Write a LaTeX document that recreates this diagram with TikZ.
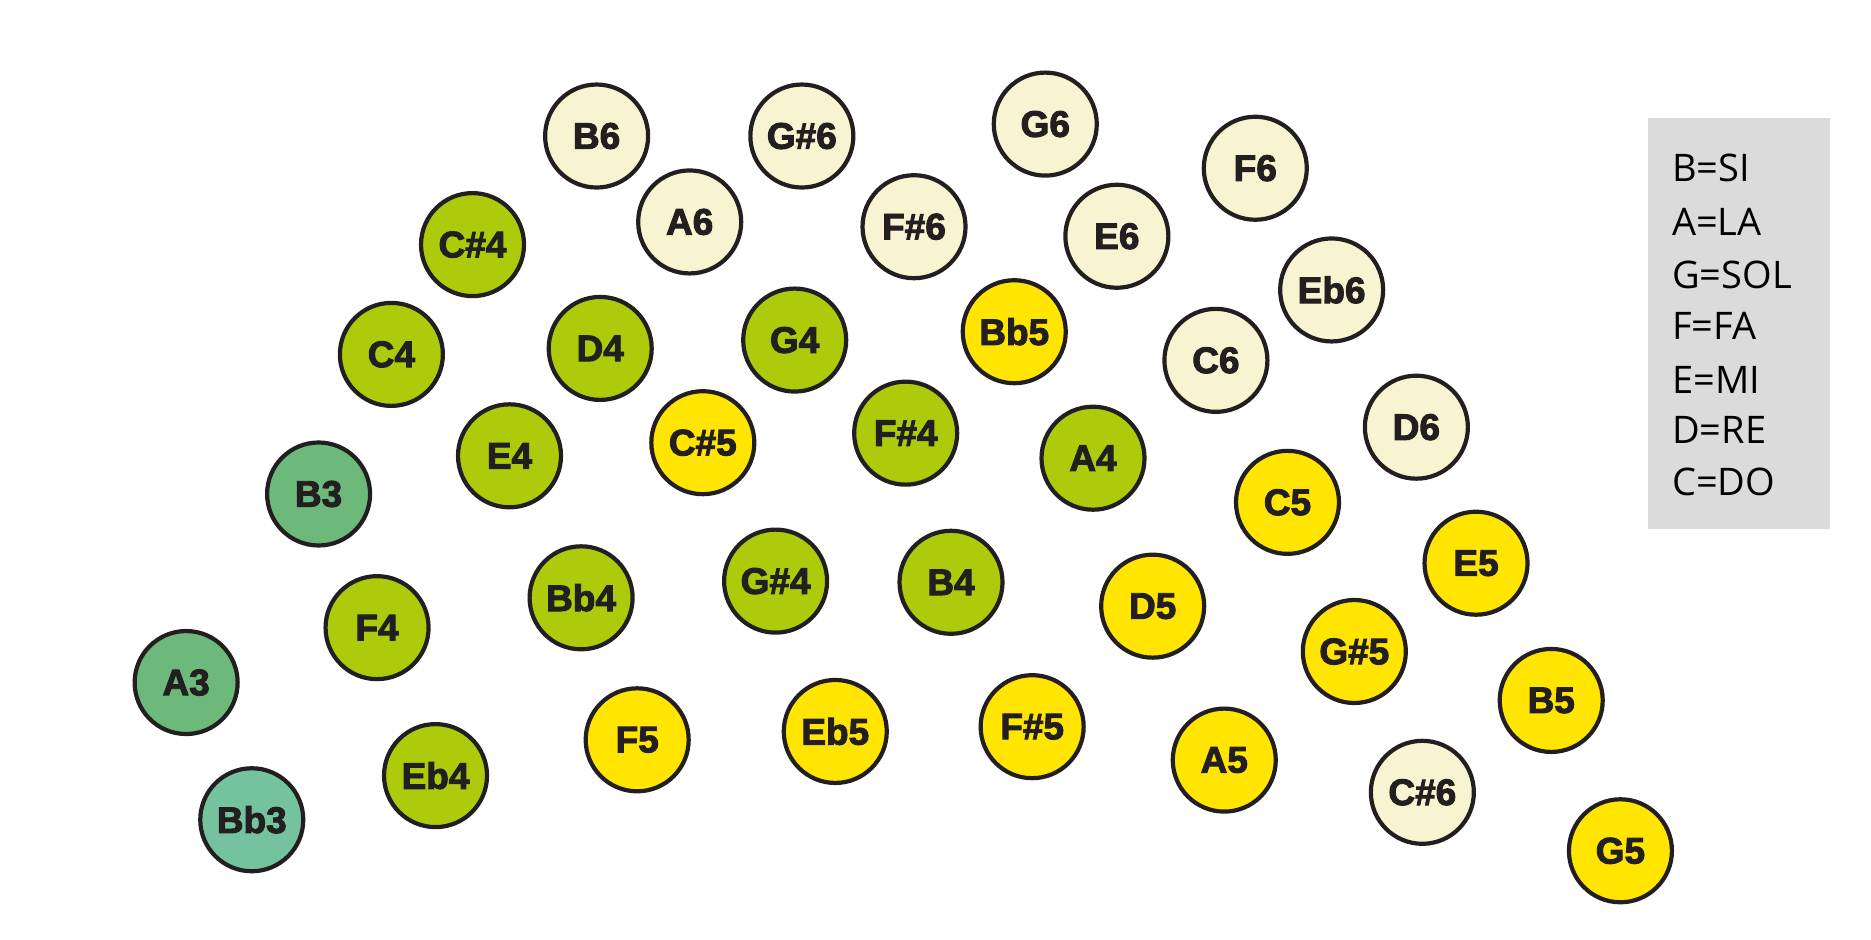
\documentclass[tikz,border=0pt]{standalone}
\usepackage{fontspec}
\setmainfont{Liberation Sans}
\newfontfamily\notefont{Liberation Sans}[FakeBold=2.6]
\newfontfamily\legendfont{Open Sans}
\definecolor{cream}{HTML}{F8F4D2}
\definecolor{yel}{HTML}{FFE500}
\definecolor{lime}{HTML}{AECB0B}
\definecolor{grn}{HTML}{6DB97B}
\definecolor{teal}{HTML}{74C39E}
\definecolor{ink}{HTML}{231F20}
\definecolor{legbg}{HTML}{DBDBDB}
\tikzset{
  note/.style={circle, draw=ink, line width=2.1pt, minimum size=51.5pt, inner sep=0pt,
    text=ink, font=\notefont\bfseries\fontsize{18.5pt}{18.5pt}\selectfont},
  cr/.style={note, fill=cream},
  ye/.style={note, fill=yel},
  li/.style={note, fill=lime},
  gr/.style={note, fill=grn},
  te/.style={note, fill=teal},
  legline/.style={anchor=west, inner sep=0pt, text=black, font=\legendfont\fontsize{19pt}{19pt}\selectfont}
}
\begin{document}
\begin{tikzpicture}[x=0.5966pt, y=-0.5966pt]
\useasboundingbox (0,0) rectangle (1568,787);
\fill[white] (0,0) rectangle (1568,787);
% cream
\node[cr] (B6) at (500,114) {B6};
\node[cr] (Gs6) at (672,114) {G\#6};
\node[cr] (G6) at (876,104) {G6};
\node[cr] (F6) at (1052,141) {F6};
\node[cr] (A6) at (578,186) {A6};
\node[cr] (Fs6) at (766,190) {F\#6};
\node[cr] (E6) at (936,198) {E6};
\node[cr] (Eb6) at (1116,243) {Eb6};
\node[cr] (C6) at (1019,302) {C6};
\node[cr] (D6) at (1187,358) {D6};
\node[cr] (Cs6) at (1192,664) {C\#6};
% yellow
\node[ye] (Bb5) at (850,278) {Bb5};
\node[ye] (Cs5) at (589,371) {C\#5};
\node[ye] (C5) at (1079,421) {C5};
\node[ye] (D5) at (966,508) {D5};
\node[ye] (E5) at (1237,472) {E5};
\node[ye] (Gs5) at (1135,546) {G\#5};
\node[ye] (F5) at (534,620) {F5};
\node[ye] (Eb5) at (700,613) {Eb5};
\node[ye] (Fs5) at (865,609) {F\#5};
\node[ye] (A5) at (1026,637) {A5};
\node[ye] (B5) at (1300,587) {B5};
\node[ye] (G5) at (1358,713) {G5};
% lime
\node[li] (Cs4) at (396,205) {C\#4};
\node[li] (C4) at (328,297) {C4};
\node[li] (D4) at (503,292) {D4};
\node[li] (G4) at (666,285) {G4};
\node[li] (E4) at (427,382) {E4};
\node[li] (Fs4) at (759,363) {F\#4};
\node[li] (A4) at (916,384) {A4};
\node[li] (F4) at (316,526) {F4};
\node[li] (Bb4) at (487,501) {Bb4};
\node[li] (Gs4) at (650,487) {G\#4};
\node[li] (B4) at (797,488) {B4};
\node[li] (Eb4) at (365,650) {Eb4};
% green
\node[gr] (B3) at (267,414) {B3};
\node[gr] (A3) at (156,572) {A3};
\node[te] (Bb3) at (211,687) {Bb3};
% legend
\fill[legbg] (1381,99) rectangle (1534,443);
\node[legline] (l1) at (1401,141) {B=SI};
\node[legline] (l2) at (1401,186) {A=LA};
\node[legline] (l3) at (1401,230) {G=SOL};
\node[legline] (l4) at (1401,273) {F=FA};
\node[legline] (l5) at (1401,318) {E=MI};
\node[legline] (l6) at (1401,360) {D=RE};
\node[legline] (l7) at (1401,404) {C=DO};
\end{tikzpicture}
\end{document}
